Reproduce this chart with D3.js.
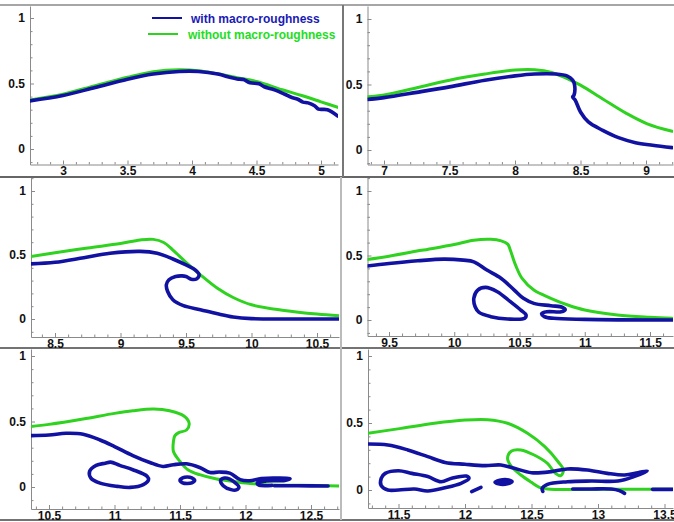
<!DOCTYPE html>
<html lang="en">
<head>
<meta charset="utf-8">
<script src="https://d3js.org/d3.v7.min.js"></script>
<style>
  body { margin: 0; background: #fff; }
</style>
</head>
<body>
<script>
// ---- data: wave profiles, [x, y] pairs ----
var withoutP1 = [[2.74,0.374],[3.0,0.418],[3.25,0.484],[3.5,0.548],[3.7,0.59],[3.9,0.605],[4.05,0.598],[4.2,0.574],[4.35,0.545],[4.5,0.515],[4.7,0.452],[4.85,0.408],[5.0,0.36],[5.13,0.318]];
var withP1 = [[2.74,0.367],[3.0,0.408],[3.25,0.47],[3.5,0.533],[3.7,0.572],[3.9,0.592],[4.05,0.592],[4.2,0.572],[4.3,0.545],[4.35,0.535],[4.4,0.53],[4.45,0.505],[4.52,0.498],[4.56,0.475],[4.62,0.458],[4.67,0.44],[4.72,0.418],[4.77,0.395],[4.82,0.38],[4.86,0.358],[4.9,0.352],[4.95,0.33],[4.98,0.305],[5.05,0.3],[5.13,0.252]];

var withoutP2 = [[6.86,0.405],[7.0,0.42],[7.25,0.475],[7.5,0.533],[7.77,0.58],[8.0,0.61],[8.15,0.612],[8.28,0.592],[8.41,0.54],[8.5,0.495],[8.67,0.39],[8.85,0.28],[9.01,0.2],[9.2,0.143]];
var withP2 = [[6.86,0.385],[7.0,0.40],[7.25,0.44],[7.5,0.482],[7.77,0.533],[8.0,0.566],[8.15,0.58],[8.31,0.58],[8.4,0.564],[8.44,0.533],[8.455,0.495],[8.45,0.418],[8.44,0.405],[8.46,0.38],[8.5,0.29],[8.56,0.214],[8.67,0.15],[8.79,0.094],[8.92,0.056],[9.05,0.036],[9.2,0.018]];

var withoutP3 = [[8.31,0.487],[8.5,0.518],[8.75,0.555],[9.0,0.59],[9.15,0.617],[9.25,0.622],[9.33,0.598],[9.4,0.539],[9.5,0.443],[9.61,0.345],[9.74,0.24],[9.86,0.168],[10.0,0.111],[10.25,0.067],[10.5,0.039],[10.67,0.026]];
var withP3 = [[8.31,0.43],[8.5,0.443],[8.72,0.479],[8.92,0.513],[9.15,0.528],[9.28,0.513],[9.4,0.469],[9.5,0.422],[9.57,0.383],[9.6,0.345],[9.58,0.313],[9.54,0.311],[9.5,0.332],[9.47,0.337],[9.42,0.332],[9.37,0.306],[9.35,0.267],[9.36,0.215],[9.4,0.15],[9.48,0.104],[9.61,0.073],[9.74,0.041],[9.86,0.016],[10.0,0.003],[10.25,0.0],[10.67,0.0]];

var withoutP4 = [[9.33,0.469],[9.5,0.495],[9.75,0.54],[10.0,0.585],[10.15,0.619],[10.28,0.626],[10.36,0.613],[10.41,0.588],[10.43,0.541],[10.47,0.425],[10.52,0.322],[10.61,0.232],[10.74,0.168],[10.87,0.116],[11.0,0.077],[11.25,0.039],[11.5,0.021],[11.67,0.013]];
var withP4 = [[9.33,0.418],[9.5,0.438],[9.72,0.459],[9.92,0.472],[10.07,0.464],[10.15,0.451],[10.25,0.387],[10.36,0.322],[10.46,0.232],[10.53,0.168],[10.61,0.129],[10.74,0.111],[10.83,0.098],[10.85,0.08],[10.82,0.064],[10.71,0.064],[10.67,0.05],[10.69,0.026],[10.76,0.013],[11.0,0.005],[11.67,0.0]];
var loopsP4 = [
  [[10.16,0.103],[10.15,0.168],[10.18,0.232],[10.24,0.253],[10.33,0.219],[10.43,0.142],[10.51,0.077],[10.55,0.039],[10.54,0.013],[10.41,0.008],[10.28,0.026],[10.19,0.059]]
];

var withoutP5 = [[10.36,0.461],[10.5,0.478],[10.76,0.519],[11.0,0.562],[11.14,0.582],[11.3,0.595],[11.42,0.582],[11.53,0.542],[11.57,0.486],[11.55,0.435],[11.49,0.415],[11.46,0.39],[11.45,0.347],[11.45,0.271],[11.5,0.195],[11.56,0.132],[11.65,0.094],[11.78,0.061],[11.91,0.043],[12.0,0.03],[12.16,0.018],[12.42,0.013],[12.71,0.008]];
var withP5 = [[10.36,0.392],[10.5,0.397],[10.63,0.41],[10.76,0.403],[10.89,0.359],[11.0,0.309],[11.14,0.24],[11.27,0.187],[11.37,0.157],[11.45,0.17],[11.55,0.177],[11.65,0.149],[11.73,0.111],[11.8,0.114],[11.88,0.106],[11.96,0.056],[12.03,0.048],[12.12,0.065],[12.25,0.068],[12.34,0.063],[12.3,0.05],[12.15,0.045],[12.09,0.03],[12.1,0.015],[12.2,0.012]];
var piecesP5 = [
  [[12.22,0.01],[12.4,0.009],[12.63,0.008]]
];
var loopsP5 = [
  [[10.81,0.119],[10.86,0.165],[10.93,0.182],[10.97,0.19],[11.04,0.165],[11.14,0.132],[11.25,0.081],[11.26,0.056],[11.22,0.018],[11.12,-0.003],[11.02,0.005],[10.89,0.03],[10.82,0.068]],
  [[11.5,0.052],[11.52,0.07],[11.556,0.076],[11.59,0.07],[11.612,0.052],[11.59,0.032],[11.556,0.027],[11.52,0.032]],
  [[11.81,0.05],[11.84,0.068],[11.88,0.06],[11.93,0.025],[11.95,0.0],[11.93,-0.022],[11.89,-0.02],[11.83,0.01]]
];

var withoutP6 = [[11.27,0.423],[11.52,0.46],[11.77,0.498],[12.0,0.522],[12.17,0.525],[12.32,0.498],[12.47,0.423],[12.6,0.323],[12.7,0.211],[12.74,0.149],[12.72,0.107],[12.68,0.124],[12.62,0.199],[12.52,0.261],[12.42,0.299],[12.35,0.291],[12.32,0.236],[12.35,0.174],[12.42,0.112],[12.5,0.057],[12.56,0.02],[12.62,0.007],[13.02,0.005],[13.56,0.005]];
var withP6 = [[11.27,0.343],[11.42,0.336],[11.57,0.299],[11.72,0.249],[11.85,0.206],[12.0,0.192],[12.15,0.182],[12.27,0.187],[12.37,0.162],[12.5,0.129],[12.65,0.137],[12.77,0.157],[12.92,0.149],[13.07,0.124],[13.2,0.112],[13.3,0.129],[13.37,0.142],[13.27,0.1],[13.15,0.067],[12.95,0.067],[12.77,0.062],[12.62,0.042],[12.58,0.01],[12.585,-0.01]];
var piecesP6 = [
  [[12.81,0.007],[12.95,0.008],[13.1,0.007],[13.16,-0.005],[13.2,-0.025]],
  [[13.41,0.005],[13.56,0.005]],
  [[12.05,-0.012],[12.12,0.02]]
];
var loopsP6 = [
  [[11.37,0.087],[11.4,0.124],[11.5,0.144],[11.6,0.124],[11.72,0.1],[11.82,0.062],[11.9,0.087],[12.01,0.104],[12.03,0.087],[11.97,0.05],[11.85,0.017],[11.72,-0.007],[11.62,0.007],[11.5,0.0],[11.42,0.0],[11.37,0.032]]
];
var blobsP6 = [
  [[12.22,0.058],[12.26,0.078],[12.33,0.08],[12.36,0.062],[12.32,0.04],[12.25,0.04]]
];

var yMajor = [0, 0.5, 1];
var legendLabels = ["with macro-roughness", "without macro-roughness"];

// ---- layout: pixel box of each sub plot and two x ticks used to pin the scale ----
var panels = [
  {left: 30,    right: 338, top: 6,   bottom: 164.5, xa: [3, 5],      pa: [63, 321],  y0: 149, y1: 18,
   without: withoutP1, with: withP1, pieces: [], loops: [], blobs: []},
  {left: 367.5, right: 673, top: 6,   bottom: 164.5, xa: [7, 9],      pa: [384, 646], y0: 150, y1: 19,
   without: withoutP2, with: withP2, pieces: [], loops: [], blobs: []},
  {left: 31,    right: 339, top: 178, bottom: 337,   xa: [8.5, 10.5], pa: [55, 317],  y0: 319, y1: 191,
   without: withoutP3, with: withP3, pieces: [], loops: [], blobs: []},
  {left: 367.5, right: 673, top: 178, bottom: 336,   xa: [9.5, 11.5], pa: [389, 650], y0: 320, y1: 191,
   without: withoutP4, with: withP4, pieces: [], loops: loopsP4, blobs: []},
  {left: 31,    right: 339, top: 349, bottom: 509,   xa: [10.5, 12.5],pa: [49, 311],  y0: 487, y1: 356,
   without: withoutP5, with: withP5, pieces: piecesP5, loops: loopsP5, blobs: []},
  {left: 368,   right: 673, top: 349, bottom: 508,   xa: [12, 13],    pa: [465, 598], y0: 490, y1: 356,
   without: withoutP6, with: withP6, pieces: piecesP6, loops: loopsP6, blobs: blobsP6}
];

var blue = "#1212a2";
var green = "#2fd21f";
var axisGrey = "#8a8a8a";

var svg = d3.select("body")
            .append("svg")
            .attr("width", 674)
            .attr("height", 522);

// separators between the six pictures
var sep = svg.append("g");
sep.append("line").attr("x1", 0).attr("x2", 674).attr("y1", 5).attr("y2", 5)
   .attr("stroke", "#888").attr("stroke-width", 1.5);
sep.append("line").attr("x1", 0).attr("x2", 674).attr("y1", 177).attr("y2", 177)
   .attr("stroke", "#333").attr("stroke-width", 1.5);
sep.append("line").attr("x1", 0).attr("x2", 674).attr("y1", 348).attr("y2", 348)
   .attr("stroke", "#444").attr("stroke-width", 1.5);
sep.append("line").attr("x1", 0).attr("x2", 674).attr("y1", 520).attr("y2", 520)
   .attr("stroke", "#444").attr("stroke-width", 1.5);
sep.append("line").attr("x1", 343).attr("x2", 343).attr("y1", 5).attr("y2", 177)
   .attr("stroke", "#777").attr("stroke-width", 2);
sep.append("line").attr("x1", 341).attr("x2", 341).attr("y1", 177).attr("y2", 520)
   .attr("stroke", "#bbb").attr("stroke-width", 2);

var lineOpen = d3.line().curve(d3.curveCatmullRom.alpha(0.5));
var lineClosed = d3.line().curve(d3.curveCatmullRomClosed.alpha(0.5));

panels.forEach(function(p, i) {
  var pin = d3.scaleLinear().domain(p.xa).range(p.pa);
  var xs = d3.scaleLinear().domain([pin.invert(p.left), pin.invert(p.right)]).range([p.left, p.right]);
  var ypin = d3.scaleLinear().domain([0, 1]).range([p.y0, p.y1]);
  var ys = d3.scaleLinear().domain([ypin.invert(p.bottom), ypin.invert(p.top)]).range([p.bottom, p.top]);

  var xd = xs.domain(), yd = ys.domain();
  var xMajor = d3.range(Math.ceil(xd[0] * 2), Math.floor(xd[1] * 2) + 1).map(function(k) { return k / 2; });
  var xMinor = d3.range(Math.ceil(xd[0] * 10), Math.floor(xd[1] * 10) + 1)
                 .filter(function(k) { return k % 5 != 0; }).map(function(k) { return k / 10; });
  var yMinor = d3.range(Math.ceil(yd[0] * 10), Math.floor(yd[1] * 10) + 1)
                 .filter(function(k) { return k % 5 != 0; }).map(function(k) { return k / 10; });

  var g = svg.append("g");

  // axes
  g.append("g").attr("transform", "translate(0," + p.bottom + ")")
   .call(d3.axisBottom(xs).tickValues(xMajor).tickSize(-4).tickSizeOuter(0)
           .tickPadding(2).tickFormat(d3.format("~g")));
  g.append("g").attr("transform", "translate(0," + p.bottom + ")")
   .call(d3.axisBottom(xs).tickValues(xMinor).tickSize(-2.5).tickSizeOuter(0).tickFormat(""))
   .select(".domain").remove();
  g.append("g").attr("transform", "translate(" + p.left + ",0)")
   .call(d3.axisLeft(ys).tickValues(yMajor).tickSize(-4).tickSizeOuter(0)
           .tickPadding(5).tickFormat(d3.format("~g")));
  g.append("g").attr("transform", "translate(" + p.left + ",0)")
   .call(d3.axisLeft(ys).tickValues(yMinor).tickSize(-2.5).tickSizeOuter(0).tickFormat(""))
   .select(".domain").remove();

  g.selectAll(".domain, .tick line").attr("stroke", axisGrey);
  g.selectAll(".tick text")
   .attr("fill", "#111")
   .style("font-family", "Liberation Sans, Arial, sans-serif")
   .style("font-size", "12px")
   .style("font-weight", "bold");

  // curves
  g.append("clipPath").attr("id", "clip" + i)
   .append("rect").attr("x", p.left).attr("y", p.top)
   .attr("width", p.right - p.left).attr("height", p.bottom - p.top);
  var c = g.append("g").attr("clip-path", "url(#clip" + i + ")");
  lineOpen.x(function(d) { return xs(d[0]); }).y(function(d) { return ys(d[1]); });
  lineClosed.x(function(d) { return xs(d[0]); }).y(function(d) { return ys(d[1]); });

  c.append("path").attr("d", lineOpen(p.without))
   .attr("fill", "none").attr("stroke", green).attr("stroke-width", 3)
   .attr("stroke-linecap", "round").attr("stroke-linejoin", "round");

  [p.with].concat(p.pieces).forEach(function(s) {
    c.append("path").attr("d", lineOpen(s))
     .attr("fill", "none").attr("stroke", blue).attr("stroke-width", 3.6)
     .attr("stroke-linecap", "round").attr("stroke-linejoin", "round");
  });
  p.loops.forEach(function(s) {
    c.append("path").attr("d", lineClosed(s))
     .attr("fill", "none").attr("stroke", blue).attr("stroke-width", 3.6)
     .attr("stroke-linejoin", "round");
  });
  p.blobs.forEach(function(s) {
    c.append("path").attr("d", lineClosed(s))
     .attr("fill", blue).attr("stroke", blue).attr("stroke-width", 2);
  });
});

// legend in the first picture
var leg = svg.append("g")
             .style("font-family", "Liberation Sans, Arial, sans-serif")
             .style("font-size", "12px")
             .style("font-weight", "bold");
leg.append("line").attr("x1", 152).attr("x2", 182).attr("y1", 18).attr("y2", 18)
   .attr("stroke", blue).attr("stroke-width", 2);
leg.append("text").attr("x", 191).attr("y", 23).attr("fill", "#1a1ab4").text(legendLabels[0]);
leg.append("line").attr("x1", 148).attr("x2", 178).attr("y1", 34).attr("y2", 34)
   .attr("stroke", green).attr("stroke-width", 2);
leg.append("text").attr("x", 188).attr("y", 39).attr("fill", "#22dd22").text(legendLabels[1]);
</script>
</body>
</html>
